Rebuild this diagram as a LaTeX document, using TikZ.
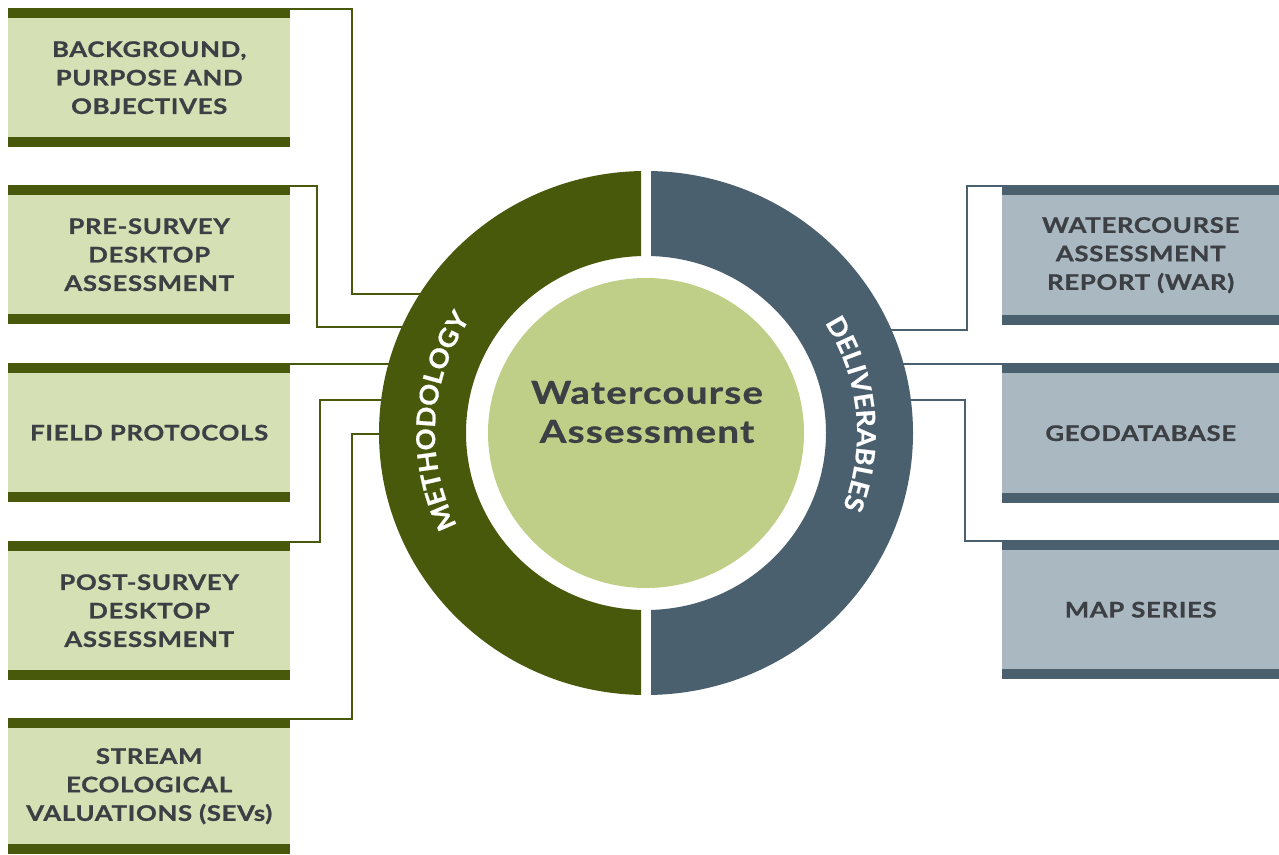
\documentclass[tikz,border=0pt]{standalone}
\usepackage{fontspec}
\usetikzlibrary{decorations.text}
\newfontfamily\boxfont{Lato}[FakeStretch=1.2, LetterSpace=3, FakeBold=0.8]
\newfontfamily\titlefont{Lato}[FakeStretch=1.22, LetterSpace=4, FakeBold=0.8]
\newfontfamily\ringfont{Lato}[FakeStretch=1.05, LetterSpace=0.5, FakeBold=0.8]
\definecolor{lfill}{HTML}{D6E0B5}
\definecolor{dgreen}{HTML}{48590C}
\definecolor{core}{HTML}{BFCF88}
\definecolor{slate}{HTML}{4A606E}
\definecolor{rfill}{HTML}{AAB9C1}
\definecolor{txt}{HTML}{3C3F44}
\tikzset{
  barbox/.style={rectangle, fill=#1, inner sep=0pt, align=center, text=txt,
    font=\boxfont\bfseries\fontsize{21.5}{28.5}\selectfont},
  lbox/.style={barbox=lfill, minimum width=282pt, minimum height=139pt,
    path picture={
      \fill[dgreen] (path picture bounding box.north west) rectangle ([yshift=-10pt]path picture bounding box.north east);
      \fill[dgreen] (path picture bounding box.south west) rectangle ([yshift=10pt]path picture bounding box.south east);}},
  rbox/.style={barbox=rfill, minimum width=277pt, minimum height=140pt,
    path picture={
      \fill[slate] (path picture bounding box.north west) rectangle ([yshift=-10pt]path picture bounding box.north east);
      \fill[slate] (path picture bounding box.south west) rectangle ([yshift=10pt]path picture bounding box.south east);}},
  lconn/.style={draw=dgreen, line width=2pt},
  rconn/.style={draw=slate, line width=2pt},
}
\begin{document}
\begin{tikzpicture}[x=1pt,y=1pt]
\useasboundingbox (0,0) rectangle (1279,854);
% left boxes
\node[lbox, anchor=north west] (b1) at (8,846) {BACKGROUND,\\PURPOSE AND\\OBJECTIVES};
\node[lbox, anchor=north west] (b2) at (8,669) {PRE-SURVEY\\DESKTOP\\ASSESSMENT};
\node[lbox, anchor=north west] (b3) at (8,491) {FIELD PROTOCOLS};
\node[lbox, anchor=north west] (b4) at (8,313) {POST-SURVEY\\DESKTOP\\ASSESSMENT};
\node[lbox, anchor=north west, minimum height=136pt] (b5) at (8,136) {STREAM\\ECOLOGICAL\\VALUATIONS (SEVs)};
% right boxes
\node[rbox, anchor=north west] (r1) at (1002,669) {WATERCOURSE\\ASSESSMENT\\REPORT (WAR)};
\node[rbox, anchor=north west] (r2) at (1002,491) {GEODATABASE};
\node[rbox, anchor=north west, minimum height=139pt] (r3) at (1002,314) {MAP SERIES};
% connector ends (hidden under the ring)
\coordinate (e1) at (440,560);
\coordinate (e2) at (440,527);
\coordinate (e3) at (440,490);
\coordinate (e4) at (440,454);
\coordinate (e5) at (440,420);
\coordinate (f1) at (850,524);
\coordinate (f2) at (850,490);
\coordinate (f3) at (850,454);
% connectors
\draw[lconn] ([yshift=-1pt]b1.north east) -- ++(62,0) |- (e1);
\draw[lconn] ([yshift=-1pt]b2.north east) -- ++(27,0) |- (e2);
\draw[lconn] ([yshift=-1pt]b3.north east) -- (e3);
\draw[lconn] ([yshift=-1pt]b4.north east) -- ++(30,0) |- (e4);
\draw[lconn] ([yshift=-1pt]b5.north east) -- ++(62,0) |- (e5);
\draw[rconn] ([yshift=-1pt]r1.north west) -- ++(-35,0) |- (f1);
\draw[rconn] ([yshift=-1pt]r2.north west) -- (f2);
\draw[rconn] ([yshift=-1pt]r3.north west) -- ++(-37,0) |- (f3);
% ring
\coordinate (c) at (646,421);
\begin{scope}
\clip (0,0) rectangle (641,854);
\fill[dgreen, even odd rule] (c) ellipse[x radius=267pt, y radius=262pt] (c) ellipse[x radius=180pt, y radius=177pt];
\end{scope}
\begin{scope}
\clip (651,0) rectangle (1279,854);
\fill[slate, even odd rule] (c) ellipse[x radius=267pt, y radius=262pt] (c) ellipse[x radius=180pt, y radius=177pt];
\end{scope}
% core
\fill[core] (c) ellipse[x radius=158pt, y radius=155pt];
\node[text=txt, align=center, font=\titlefont\bfseries\fontsize{31.5}{39}\selectfont] (title) at (647,442) {Watercourse\\Assessment};
% ring labels
\path[decorate, decoration={text along path, text align=center,
  text={|\ringfont\bfseries\fontsize{26}{26}\selectfont\color{white}|METHODOLOGY}}]
  (c) ++(207:211pt and 207pt) arc[start angle=207, end angle=146, x radius=211pt, y radius=207pt];
\path[decorate, decoration={text along path, text align=center,
  text={|\ringfont\bfseries\fontsize{26}{26}\selectfont\color{white}|DELIVERABLES}}]
  (c) ++(34:211pt and 207pt) arc[start angle=34, end angle=-23, x radius=211pt, y radius=207pt];
\end{tikzpicture}
\end{document}
